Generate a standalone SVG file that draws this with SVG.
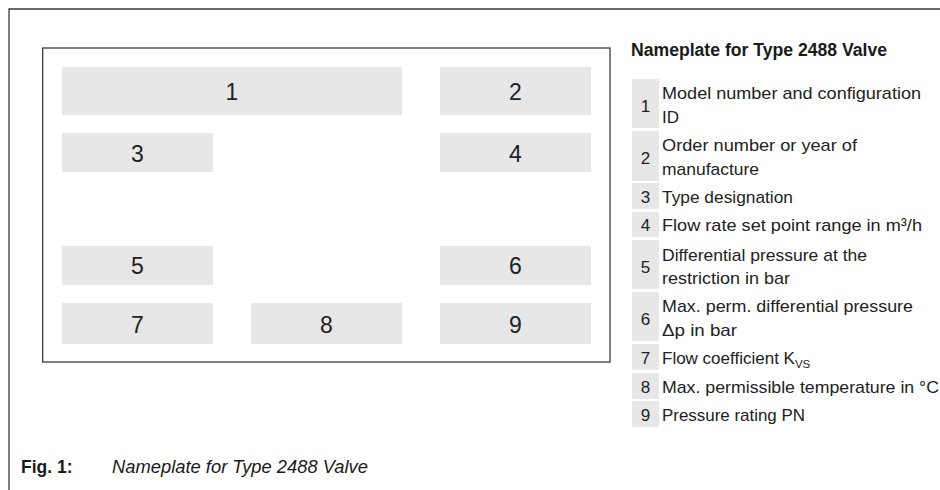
<svg xmlns="http://www.w3.org/2000/svg" width="940" height="490" viewBox="0 0 940 490">
<style>
.frame{fill:none;stroke:#3a3a3a;stroke-width:1.3}
.cell{fill:#e6e7e6}
.num{font-family:"Liberation Sans",Arial,sans-serif;font-size:23px;fill:#222;text-anchor:middle}
.lnum{font-family:"Liberation Sans",Arial,sans-serif;font-size:17px;fill:#222;text-anchor:middle}
.txt{font-family:"Liberation Sans",Arial,sans-serif;font-size:17px;fill:#222}
.title{font-family:"Liberation Sans",Arial,sans-serif;font-size:17.5px;font-weight:bold;fill:#1a1a1a}
.figl{font-family:"Liberation Sans",Arial,sans-serif;font-size:17.5px;font-weight:bold;fill:#1a1a1a}
.figc{font-family:"Liberation Sans",Arial,sans-serif;font-size:17.5px;font-style:italic;fill:#1a1a1a}
</style>
<rect width="940" height="490" fill="#ffffff"/>
<path class="frame" d="M9,490 V9 H940"/>
<g id="plate">
<rect class="frame" x="42.7" y="48" width="567.3" height="314"/>
</g>
<g id="field1"><rect class="cell" x="62" y="67" width="340" height="48"/><text class="num" x="232" y="100">1</text></g>
<g id="field2"><rect class="cell" x="440" y="67" width="151" height="48"/><text class="num" x="515.5" y="100">2</text></g>
<g id="field3"><rect class="cell" x="62" y="133" width="151" height="39"/><text class="num" x="137.5" y="162">3</text></g>
<g id="field4"><rect class="cell" x="440" y="133" width="151" height="39"/><text class="num" x="515.5" y="162">4</text></g>
<g id="field5"><rect class="cell" x="62" y="246" width="151" height="39"/><text class="num" x="137.5" y="274">5</text></g>
<g id="field6"><rect class="cell" x="440" y="246" width="151" height="39"/><text class="num" x="515.5" y="274">6</text></g>
<g id="field7"><rect class="cell" x="62" y="303" width="151" height="41"/><text class="num" x="137.5" y="333">7</text></g>
<g id="field8"><rect class="cell" x="251" y="303" width="151" height="41"/><text class="num" x="326.5" y="333">8</text></g>
<g id="field9"><rect class="cell" x="440" y="303" width="151" height="41"/><text class="num" x="515.5" y="333">9</text></g>
<g id="connectors"></g>
<g id="legend">
<text class="title" x="631" y="56" textLength="256" lengthAdjust="spacingAndGlyphs">Nameplate for Type 2488 Valve</text>
<g id="item1"><rect class="cell" x="632" y="79" width="27" height="49"/><text class="lnum" x="645.5" y="112">1</text>
<text class="txt" x="662" y="99" textLength="259" lengthAdjust="spacingAndGlyphs">Model number and configuration</text><text class="txt" x="662" y="122.5">ID</text></g>
<g id="item2"><rect class="cell" x="632" y="131" width="27" height="50"/><text class="lnum" x="645.5" y="164">2</text>
<text class="txt" x="662" y="151" textLength="195" lengthAdjust="spacingAndGlyphs">Order number or year of</text><text class="txt" x="662" y="174.5" textLength="97" lengthAdjust="spacingAndGlyphs">manufacture</text></g>
<g id="item3"><rect class="cell" x="632" y="183" width="27" height="26"/><text class="lnum" x="645.5" y="202.5">3</text>
<text class="txt" x="662" y="202.5" textLength="131" lengthAdjust="spacingAndGlyphs">Type designation</text></g>
<g id="item4"><rect class="cell" x="632" y="212" width="27" height="25"/><text class="lnum" x="645.5" y="231">4</text>
<text class="txt" x="662" y="231" textLength="260" lengthAdjust="spacingAndGlyphs">Flow rate set point range in m³/h</text></g>
<g id="item5"><rect class="cell" x="632" y="240" width="27" height="49"/><text class="lnum" x="645.5" y="273">5</text>
<text class="txt" x="662" y="260.5" textLength="205" lengthAdjust="spacingAndGlyphs">Differential pressure at the</text><text class="txt" x="662" y="283.5" textLength="128" lengthAdjust="spacingAndGlyphs">restriction in bar</text></g>
<g id="item6"><rect class="cell" x="632" y="292" width="27" height="49"/><text class="lnum" x="645.5" y="325">6</text>
<text class="txt" x="662" y="312" textLength="251" lengthAdjust="spacingAndGlyphs">Max. perm. differential pressure</text><text class="txt" x="662" y="335.5" textLength="75" lengthAdjust="spacingAndGlyphs">Δp in bar</text></g>
<g id="item7"><rect class="cell" x="632" y="344" width="27" height="26"/><text class="lnum" x="645.5" y="363.5">7</text>
<text class="txt" x="662" y="363.5">Flow coefficient K<tspan font-size="11.5" dy="4">VS</tspan></text></g>
<g id="item8"><rect class="cell" x="632" y="373" width="27" height="26"/><text class="lnum" x="645.5" y="392.5">8</text>
<text class="txt" x="662" y="392.5" textLength="277" lengthAdjust="spacingAndGlyphs">Max. permissible temperature in °C</text></g>
<g id="item9"><rect class="cell" x="632" y="401" width="27" height="26"/><text class="lnum" x="645.5" y="420.5">9</text>
<text class="txt" x="662" y="420.5" textLength="143" lengthAdjust="spacingAndGlyphs">Pressure rating PN</text></g>
</g>
<g id="caption">
<text class="figl" x="21" y="473">Fig. 1:</text>
<text class="figc" x="112" y="473" textLength="256" lengthAdjust="spacingAndGlyphs">Nameplate for Type 2488 Valve</text>
</g>
</svg>
